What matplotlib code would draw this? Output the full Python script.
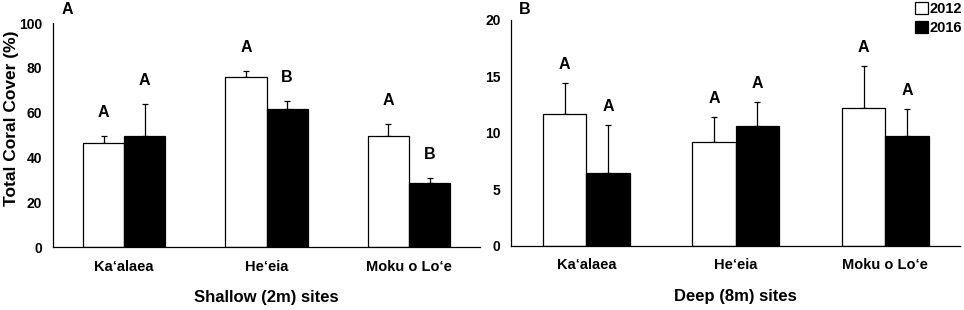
import numpy as np
import matplotlib
matplotlib.use('Agg')
import matplotlib.pyplot as plt
from matplotlib.patches import Patch

plt.rcParams['font.family'] = ['Liberation Sans', 'DejaVu Sans']
plt.rcParams['font.weight'] = 'bold'

sites = ['Ka\u2018alaea', 'He\u2018eia', 'Moku o Lo\u2018e']
years = ['2012', '2016']

# shallow (2m) sites
shallow_2012 = [46.3, 76.0, 49.5]
shallow_2012_err = [3.2, 2.7, 5.4]
shallow_2016 = [49.5, 61.5, 28.6]
shallow_2016_err = [14.3, 3.7, 2.3]
shallow_letters_2012 = ['A', 'A', 'A']
shallow_letters_2016 = ['A', 'B', 'B']

# deep (8m) sites
deep_2012 = [11.7, 9.2, 12.2]
deep_2012_err = [2.7, 2.2, 3.7]
deep_2016 = [6.5, 10.6, 9.7]
deep_2016_err = [4.2, 2.1, 2.4]
deep_letters_2012 = ['A', 'A', 'A']
deep_letters_2016 = ['A', 'A', 'A']


def draw_panel(ax, v12, e12, v16, e16, l12, l16, ymax, step, xlabel, letter_off):
    x = np.arange(len(sites))
    w = 0.29
    for off, vals, errs, lets, color in [(-w / 2, v12, e12, l12, 'white'),
                                          (w / 2, v16, e16, l16, 'black')]:
        ax.bar(x + off, vals, width=w, color=color, edgecolor='black', linewidth=0.9, zorder=2)
        ax.errorbar(x + off, vals, yerr=[np.zeros(len(vals)), errs], fmt='none',
                    ecolor='black', elinewidth=0.9, capsize=2.2, capthick=0.9, zorder=1)
        for xi, v, e, t in zip(x + off, vals, errs, lets):
            ax.text(xi, v + e + letter_off, t, ha='center', va='center', fontsize=11.5, fontweight='bold')
    ax.set_xlim(-0.5, len(sites) - 0.5)
    ax.set_ylim(0, ymax)
    ax.set_yticks(np.arange(0, ymax + 1, step))
    ax.set_xticks(x)
    ax.set_xticklabels(sites)
    ax.tick_params(axis='both', length=0)
    ax.tick_params(axis='y', pad=8, labelsize=10)
    ax.tick_params(axis='x', pad=9, labelsize=10.5)
    for s in ['top', 'right']:
        ax.spines[s].set_visible(False)
    for s in ['left', 'bottom']:
        ax.spines[s].set_linewidth(0.9)
    ax.set_xlabel(xlabel, fontsize=12, fontweight='bold', labelpad=12)


fig = plt.figure(figsize=(9.64, 3.10), dpi=100)
ax1 = fig.add_axes([0.055, 0.2032, 0.443, 0.7226])
ax2 = fig.add_axes([0.5306, 0.2065, 0.4653, 0.729])

draw_panel(ax1, shallow_2012, shallow_2012_err, shallow_2016, shallow_2016_err,
           shallow_letters_2012, shallow_letters_2016, 100, 20, 'Shallow (2m) sites', 10.5)
draw_panel(ax2, deep_2012, deep_2012_err, deep_2016, deep_2016_err,
           deep_letters_2012, deep_letters_2016, 20, 5, 'Deep (8m) sites', 1.65)

ax1.set_ylabel('Total Coral Cover (%)', fontsize=12.5, fontweight='bold')
ax1.yaxis.set_label_coords(-0.08, 0.574)

fig.text(67 / 964, 1 - 9 / 310, 'A', ha='center', va='center', fontsize=11.5, fontweight='bold')
fig.text(525 / 964, 1 - 9 / 310, 'B', ha='center', va='center', fontsize=11.5, fontweight='bold')

handles = [Patch(facecolor='white', edgecolor='black', linewidth=0.9),
           Patch(facecolor='black', edgecolor='black', linewidth=0.9)]
fig.legend(handles, years, loc='upper right', bbox_to_anchor=(1.0, 1.0), frameon=False,
           prop={'size': 10.5, 'weight': 'bold'}, handlelength=0.9, handleheight=0.9,
           handletextpad=0.1, labelspacing=0.3, borderpad=0.15, borderaxespad=0.0)

fig.savefig('out.png', dpi=100)
